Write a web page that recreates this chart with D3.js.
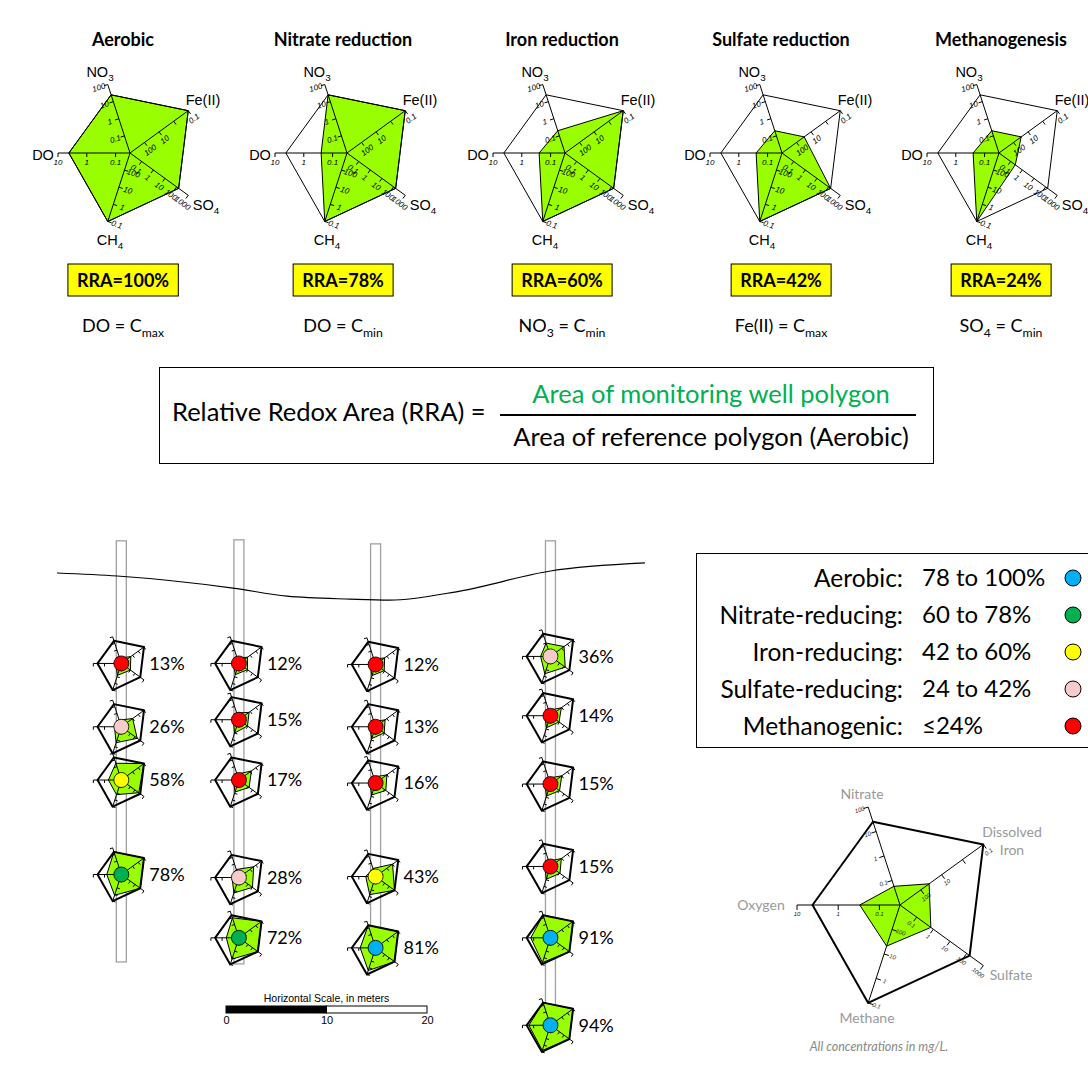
<!DOCTYPE html>
<html>
<head>
<meta charset="utf-8">
<script src="https://cdn.jsdelivr.net/npm/d3@7"></script>
<style>
  body { margin: 0; background: #fff; }
  svg { display: block; }
</style>
</head>
<body>
<script>
// ---------- axes of the redox radar (concentrations in mg/L) ----------
const axisKeys     = ["DO", "NO3", "Fe(II)", "SO4", "CH4"];
const axisLongName = ["Oxygen", "Nitrate", "Dissolved Iron", "Sulfate", "Methane"];
const axisCentre   = [0.0316, 0.01, 1000, 0.01, 1000];   // value at the hub
const axisEnd      = [10, 100, 0.1, 1000, 0.1];          // value at the outer end
const axisTicks    = [[10, 1, 0.1], [100, 10, 1, 0.1], [0.1, 1, 10, 100], [1000, 100, 10, 1, 0.1], [0.1, 1, 10, 100]];
const axisTickText = [["10", "1", "0.1"], ["100", "10", "1", "0.1"], ["0.1", "", "10", "100"], ["1000", "100", "10", "1", "0.1"], ["0.1", "1", "10", "100"]];

// reference (aerobic) polygon
const referenceValues = [4.2, 25, 0.1, 150, 0.1];

// ---------- end-member redox zones ----------
const zoneNames  = ["Aerobic", "Nitrate reduction", "Iron reduction", "Sulfate reduction", "Methanogenesis"];
const zoneDO     = [4.2, 0.25, 0.25, 0.25, 0.25];
const zoneNO3    = [25, 25, 0.2, 0.2, 0.2];
const zoneFe     = [0.1, 0.1, 0.1, 30, 30];
const zoneSO4    = [150, 150, 150, 150, 0.25];
const zoneCH4    = [0.1, 0.1, 0.1, 0.1, 0.1];
const zoneRRA    = [100, 78, 60, 42, 24];
const zoneNoteSpecies = ["DO", "DO", "NO3", "Fe(II)", "SO4"];
const zoneNoteBound   = ["max", "min", "min", "max", "min"];

// ---------- example well polygon ----------
const exampleValues = [0.3, 0.058, 40, 0.71, 21];

// ---------- RRA classes ----------
const classNames  = ["Aerobic:", "Nitrate-reducing:", "Iron-reducing:", "Sulfate-reducing:", "Methanogenic:"];
const classRanges = ["78 to 100%", "60 to 78%", "42 to 60%", "24 to 42%", "\u226424%"];
const classColors = ["#00b0f0", "#00b050", "#ffff00", "#f8cbcb", "#ff0000"];
const classUpper  = [24, 42, 60, 78, 100];   // upper bound of methanogenic ... aerobic

// ---------- cross-section (metres) ----------
const groundX     = [0, 6.0, 17.5, 22.9, 29.2, 33.1, 40.1, 49.1, 58.5];
const groundDepth = [0, 0.3, 1.5, 2.3, 2.6, 2.7, 1.8, -0.2, -1.0];
const wellX       = [6.4, 18.1, 31.7, 49.1];
const wellTop     = [-3.2, -3.3, -2.9, -3.2];
const wellBottom  = [38.7, 38.9, 39.1, 43.7];

// samples: well index, depth (m), RRA (%), concentrations (mg/L)
const sampleWell  = [0, 0, 0, 0, 1, 1, 1, 1, 1, 2, 2, 2, 2, 2, 3, 3, 3, 3, 3, 3];
const sampleDepth = [9.0, 15.3, 20.6, 30.0, 9.0, 14.6, 20.6, 30.3, 36.3, 9.1, 15.3, 20.9, 30.2, 37.3, 8.3, 14.2, 21.0, 29.2, 36.3, 45.0];
const sampleRRA   = [13, 26, 58, 78, 12, 15, 17, 28, 72, 12, 13, 16, 43, 81, 36, 14, 15, 15, 91, 94];
const sampleDO    = [0.1, 0.13, 0.45, 0.63, 0.1, 0.1, 0.1, 0.13, 0.42, 0.1, 0.1, 0.1, 0.24, 0.75, 0.24, 0.1, 0.1, 0.1, 1.8, 2.66];
const sampleNO3   = [0.063, 0.1, 3.3, 25, 0.063, 0.1, 0.076, 0.16, 10, 0.063, 0.063, 0.076, 0.16, 25, 1, 0.063, 0.076, 0.063, 25, 25];
const sampleFe    = [21, 10, 0.1, 0.1, 30, 16, 6.3, 2.5, 0.1, 25, 21, 10, 1, 0.1, 4, 12, 10, 12, 0.1, 0.1];
const sampleSO4   = [1, 32, 71, 150, 0.79, 0.79, 1.8, 10, 150, 0.79, 0.79, 1.8, 150, 150, 18, 0.79, 1, 1.26, 150, 150];
const sampleCH4   = [16, 4, 6.3, 0.76, 21, 10, 16, 4.8, 0.63, 21, 17, 16, 1.9, 0.4, 2.5, 16, 16, 12, 0.19, 0.16];

// ---------- drawing ----------
const W = 1088, H = 1069;
const GREEN = "#99ff00";
const CAL = "Lato, 'Open Sans', sans-serif";
const ARIAL = "'Liberation Sans', Arial, sans-serif";

const svg = d3.select("body").append("svg").attr("width", W).attr("height", H);
svg.append("rect").attr("width", W).attr("height", H).attr("fill", "#fff");

const axisAngle = [180, 252, 324, 36, 108].map(a => a * Math.PI / 180);
const tickSide = [1, 1, -1, -1, 1];
const closed = d3.line().curve(d3.curveLinearClosed);

function radar(g, values, o) {
  const scales = axisCentre.map((c, i) =>
    d3.scaleLog().domain([c, axisEnd[i]]).range([0, o.R]).clamp(true));
  const pt = (i, v) => {
    const r = scales[i](v);
    return [r * Math.cos(axisAngle[i]), r * Math.sin(axisAngle[i])];
  };
  g.append("path")
    .attr("d", closed(values.map((v, i) => pt(i, v))))
    .attr("fill", GREEN).attr("stroke", "#000").attr("stroke-width", o.polyWidth)
    .attr("stroke-linejoin", "round");
  g.append("path")
    .attr("d", closed(referenceValues.map((v, i) => pt(i, v))))
    .attr("fill", "none").attr("stroke", "#000").attr("stroke-width", o.refWidth)
    .attr("stroke-linejoin", "round");
  axisKeys.forEach((k, i) => {
    const a = axisAngle[i], dx = Math.cos(a), dy = Math.sin(a);
    const nx = dy * tickSide[i], ny = -dx * tickSide[i];
    const rot = (a * 180 / Math.PI) - Math.round(a * 2 / Math.PI) * 90;
    const ax = g.append("g").attr("stroke", "#000").attr("stroke-width", o.axisWidth);
    ax.append("line").attr("x1", 0).attr("y1", 0).attr("x2", o.R * dx).attr("y2", o.R * dy);
    axisTicks[i].forEach((t, j) => {
      const r = scales[i](t), px = r * dx, py = r * dy;
      ax.append("line").attr("x1", px).attr("y1", py)
        .attr("x2", px + nx * o.tickLen).attr("y2", py + ny * o.tickLen);
      if (o.tickFont && axisTickText[i][j]) {
        const lx = px + nx * (o.tickLen + o.tickGap), ly = py + ny * (o.tickLen + o.tickGap);
        g.append("text").attr("transform", `translate(${lx},${ly}) rotate(${rot})`)
          .attr("text-anchor", "middle").attr("dy", "0.35em")
          .attr("font-family", ARIAL).attr("font-style", "italic")
          .attr("font-size", o.tickFont).attr("fill", o.tickColor || "#000")
          .text(axisTickText[i][j]);
      }
    });
  });
}

function subText(sel, main, sub, size, tail) {
  sel.append("tspan").text(main);
  sel.append("tspan").attr("dy", size * 0.3).attr("font-size", size * 0.68).text(sub);
  if (tail) sel.append("tspan").attr("dy", -size * 0.3).text(tail);
}

// ---- top row: end-member zones ----
const zoneCx = [130, 347, 565, 782, 999];
const zoneTitleX = [123, 343, 562, 781, 1001];
const zoneCy = 153;
const labelOffsets = [[-87, 160], [-30, 77], [73, 105], [76, 210], [-20, 245]];
const zoneValues = zoneNames.map((_, z) => [zoneDO[z], zoneNO3[z], zoneFe[z], zoneSO4[z], zoneCH4[z]]);

zoneNames.forEach((name, z) => {
  svg.append("text").attr("x", zoneTitleX[z]).attr("y", 46).attr("text-anchor", "middle")
    .attr("font-family", CAL).attr("font-weight", "bold").attr("font-size", 18).text(name);
  const g = svg.append("g").attr("transform", `translate(${zoneCx[z]},${zoneCy})`);
  radar(g, zoneValues[z], { R: 72, polyWidth: 1, refWidth: 1, axisWidth: 1, tickLen: 4, tickGap: 5.5, tickFont: 8 });
  axisKeys.forEach((k, i) => {
    const t = svg.append("text").attr("x", zoneCx[z] + labelOffsets[i][0]).attr("y", labelOffsets[i][1])
      .attr("text-anchor", "middle").attr("font-family", ARIAL).attr("font-size", 14.5);
    if (k === "NO3") subText(t, "NO", "3", 14.5);
    else if (k === "SO4") subText(t, "SO", "4", 14.5);
    else if (k === "CH4") subText(t, "CH", "4", 14.5);
    else t.text(k);
  });
  // RRA badge
  const badge = svg.append("g");
  const bt = badge.append("text").attr("x", zoneTitleX[z]).attr("y", 287).attr("text-anchor", "middle")
    .attr("font-family", CAL).attr("font-weight", "bold").attr("font-size", 18)
    .text(`RRA=${zoneRRA[z]}%`);
  const bb = bt.node().getBBox();
  badge.insert("rect", "text").attr("x", bb.x - 9).attr("y", 264).attr("width", bb.width + 18).attr("height", 32)
    .attr("fill", "#ffff00").attr("stroke", "#000").attr("stroke-width", 1);
  // limiting condition
  const sp = zoneNoteSpecies[z];
  const nt = svg.append("text").attr("x", zoneTitleX[z]).attr("y", 332).attr("text-anchor", "middle")
    .attr("font-family", CAL).attr("font-size", 18);
  if (sp === "NO3") { subText(nt, "NO", "3", 18, " = C"); }
  else if (sp === "SO4") { subText(nt, "SO", "4", 18, " = C"); }
  else nt.append("tspan").text(sp + " = C");
  nt.append("tspan").attr("dy", 18 * 0.3).attr("font-size", 18 * 0.68).text(zoneNoteBound[z]);
});

// ---- RRA definition ----
svg.append("rect").attr("x", 159.5).attr("y", 367.5).attr("width", 774).attr("height", 96)
  .attr("fill", "none").attr("stroke", "#000").attr("stroke-width", 1);
svg.append("text").attr("x", 172).attr("y", 421).attr("font-family", CAL).attr("font-size", 25.5)
  .text("Relative Redox Area (RRA) =");
svg.append("text").attr("x", 711).attr("y", 403).attr("text-anchor", "middle").attr("font-family", CAL)
  .attr("font-size", 25.5).attr("fill", "#00b050").text("Area of monitoring well polygon");
svg.append("line").attr("x1", 500).attr("x2", 916).attr("y1", 415).attr("y2", 415)
  .attr("stroke", "#000").attr("stroke-width", 2);
svg.append("text").attr("x", 711).attr("y", 446).attr("text-anchor", "middle").attr("font-family", CAL)
  .attr("font-size", 25.5).text("Area of reference polygon (Aerobic)");

// ---- cross-section ----
const secX = d3.scaleLinear().domain([0, 60]).range([57, 57 + 603]);
const secY = d3.scaleLinear().domain([0, 50]).range([573, 573 + 502.5]);

wellX.forEach((x, w) => {
  svg.append("rect").attr("x", secX(x) - 5).attr("y", secY(wellTop[w]))
    .attr("width", 10).attr("height", secY(wellBottom[w]) - secY(wellTop[w]))
    .attr("fill", "none").attr("stroke", "#a0a0a0").attr("stroke-width", 1.3);
});
svg.append("path")
  .attr("d", d3.line().curve(d3.curveMonotoneX)(groundX.map((x, i) => [secX(x), secY(groundDepth[i])])))
  .attr("fill", "none").attr("stroke", "#000").attr("stroke-width", 1.2);

const classOf = v => 4 - classUpper.findIndex(u => v <= u);
sampleWell.forEach((w, s) => {
  const cx = secX(wellX[w]), cy = secY(sampleDepth[s]);
  const g = svg.append("g").attr("transform", `translate(${cx},${cy})`);
  radar(g, [sampleDO[s], sampleNO3[s], sampleFe[s], sampleSO4[s], sampleCH4[s]],
    { R: 28, polyWidth: 1, refWidth: 2, axisWidth: 1, tickLen: 3, tickGap: 0, tickFont: 0 });
  g.append("circle").attr("r", 7.5).attr("fill", classColors[classOf(sampleRRA[s])])
    .attr("stroke", "#000").attr("stroke-width", 0.8);
  svg.append("text").attr("x", cx + 28).attr("y", cy).attr("dy", "0.35em")
    .attr("font-family", CAL).attr("font-size", 18).text(sampleRRA[s] + "%");
});

// horizontal scale bar
const barScale = d3.scaleLinear().domain([0, 20]).range([0, secX(20) - secX(0)]);
const bar = svg.append("g").attr("transform", "translate(226,1006)");
bar.append("rect").attr("x", barScale(0)).attr("width", barScale(10) - barScale(0)).attr("height", 7)
  .attr("fill", "#000").attr("stroke", "#000");
bar.append("rect").attr("x", barScale(10)).attr("width", barScale(20) - barScale(10)).attr("height", 7)
  .attr("fill", "#fff").attr("stroke", "#000");
bar.append("text").attr("x", barScale(10)).attr("y", -4).attr("text-anchor", "middle")
  .attr("font-family", ARIAL).attr("font-size", 10.5).text("Horizontal Scale, in meters");
const barAxis = bar.append("g").attr("transform", "translate(0,7)")
  .call(d3.axisBottom(barScale).tickValues([0, 10, 20]).tickSize(0).tickPadding(3));
barAxis.select(".domain").remove();
barAxis.selectAll("text").attr("font-family", ARIAL).attr("font-size", 11).attr("fill", "#000");

// ---- legend of RRA classes ----
svg.append("rect").attr("x", 696.5).attr("y", 553.5).attr("width", 400).attr("height", 194)
  .attr("fill", "none").attr("stroke", "#000").attr("stroke-width", 1);
classNames.forEach((c, i) => {
  const y = 578 + i * 37;
  svg.append("text").attr("x", 903).attr("y", y).attr("dy", "0.35em").attr("text-anchor", "end")
    .attr("font-family", CAL).attr("font-size", 24.5).text(c);
  svg.append("text").attr("x", 922).attr("y", y).attr("dy", "0.35em")
    .attr("font-family", CAL).attr("font-size", 24).text(classRanges[i]);
  svg.append("circle").attr("cx", 1073).attr("cy", y).attr("r", 8)
    .attr("fill", classColors[i]).attr("stroke", "#000").attr("stroke-width", 1);
});

// ---- example monitoring-well radar ----
const ex = svg.append("g").attr("transform", "translate(900,905)");
radar(ex, exampleValues, { R: 103, polyWidth: 1, refWidth: 2, axisWidth: 1, tickLen: 5, tickGap: 4, tickFont: 6, tickColor: "#222" });
const exLabels = [[-139, 910, "Oxygen"], [-38, 799, "Nitrate"], [112, 837, "Dissolved"], [112, 855, "Iron"], [111, 980, "Sulfate"], [-33, 1023, "Methane"]];
exLabels.forEach(([dx, y, t]) => {
  svg.append("text").attr("x", 900 + dx).attr("y", y).attr("text-anchor", "middle")
    .attr("font-family", CAL).attr("font-size", 14).attr("fill", "#999").text(t);
});
svg.append("text").attr("x", 879).attr("y", 1051).attr("text-anchor", "middle")
  .attr("font-family", CAL).attr("font-style", "italic").attr("font-size", 12.5).attr("fill", "#888")
  .text("All concentrations in mg/L.");
</script>
</body>
</html>
